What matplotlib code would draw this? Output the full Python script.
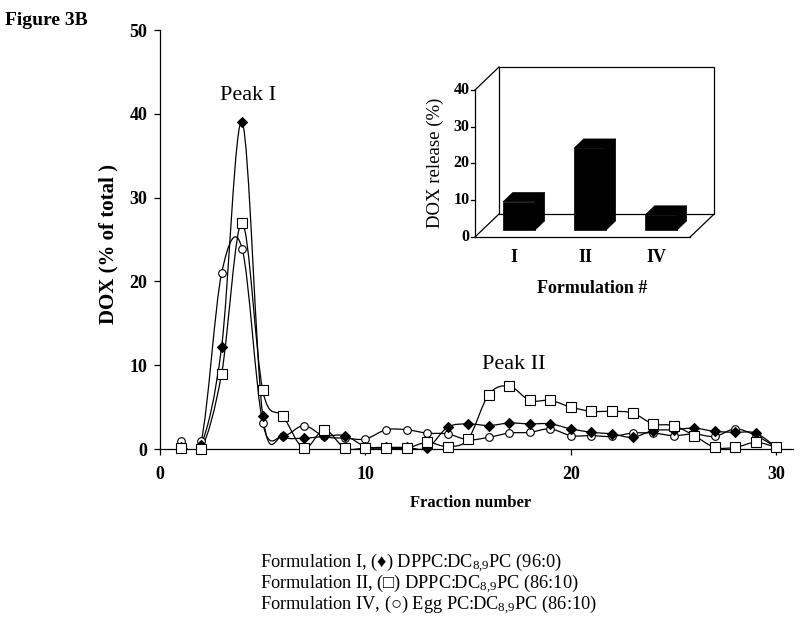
import numpy as np
import matplotlib
matplotlib.use("Agg")
import matplotlib.pyplot as plt
from matplotlib.path import Path
from matplotlib.patches import PathPatch, Polygon

plt.rcParams['font.family'] = ['Liberation Serif', 'DejaVu Serif']
plt.rcParams['mathtext.default'] = 'regular'

# elution profile, fraction 1..30
fractions = list(range(1, 31))
form_I = [0.2, 0.5, 12.2, 39.0, 4.0, 1.5, 1.3, 1.5, 1.6, 0.3, 0.2, 0.2, 0.1, 2.6, 3.0, 2.8, 3.1, 3.0, 3.0, 2.4,
          2.0, 1.8, 1.4, 2.2, 2.3, 2.5, 2.1, 2.0, 1.9, 0.2]
form_II = [0.1, 0.0, 9.0, 27.0, 7.0, 3.9, 0.1, 2.3, 0.1, 0.1, 0.1, 0.1, 0.8, 0.3, 1.2, 6.5, 7.5, 5.8, 5.8, 5.0,
           4.5, 4.5, 4.3, 3.0, 2.8, 1.6, 0.2, 0.2, 0.8, 0.2]
form_IV = [1.0, 0.9, 21.0, 23.9, 3.1, 1.6, 2.8, 1.5, 1.3, 1.2, 2.3, 2.3, 1.9, 1.8, 1.1, 1.4, 1.9, 2.0, 2.4, 1.6,
           1.6, 1.5, 1.9, 1.9, 1.6, 1.8, 1.5, 2.4, 1.6, 0.2]

# inset: DOX release per formulation
inset_labels = ['I', 'II', 'IV']
inset_values = [7.7, 22.3, 4.1]

legend_lines = [
    "Formulation I, (\u2666) DPPC:DC$_{8{,}9}$PC (96:0)",
    "Formulation II, (\u25a1) DPPC:DC$_{8{,}9}$PC (86:10)",
    "Formulation IV, (\u25cb) Egg PC:DC$_{8{,}9}$PC (86:10)",
]


def smooth_path(x, y):
    # Catmull-Rom style bezier through the points (like Excel smoothed lines)
    pts = np.column_stack([x, y]).astype(float)
    n = len(pts)
    verts = [pts[0]]
    codes = [Path.MOVETO]
    for i in range(n - 1):
        p0 = pts[i - 1] if i > 0 else pts[i]
        p1, p2 = pts[i], pts[i + 1]
        p3 = pts[i + 2] if i + 2 < n else pts[i + 1]
        verts += [p1 + (p2 - p0) / 6, p2 - (p3 - p1) / 6, p2]
        codes += [Path.CURVE4] * 3
    return Path(verts, codes)


fig = plt.figure(figsize=(8, 6.26), dpi=100)
ax = fig.add_axes([0.2, 0.2827, 0.791, 0.6693])

series = [
    (form_IV, dict(marker='o', ms=5.5, mfc='white', mec='black', mew=0.8)),
    (form_I, dict(marker='D', ms=5.2, mfc='black', mec='black', mew=0.8)),
    (form_II, dict(marker='s', ms=6.5, mfc='white', mec='black', mew=0.8)),
]
for z, (vals, style) in enumerate(series):
    ax.add_patch(PathPatch(smooth_path(fractions, vals), fill=False, lw=0.9, ec='black', zorder=2 + z))
    ax.plot(fractions, vals, ls='none', zorder=5 + z, clip_on=False, **style)

ax.set_xlim(0, 30.8)
ax.set_ylim(0, 50)
ax.set_xticks([0, 10, 20, 30])
ax.set_yticks([0, 10, 20, 30, 40, 50])
for s in ['top', 'right']:
    ax.spines[s].set_visible(False)
for s in ['left', 'bottom']:
    ax.spines[s].set_linewidth(0.9)
ax.tick_params(direction='out', length=4, width=0.9, labelsize=13)
ax.tick_params(axis='x', pad=8)
ax.tick_params(axis='y', pad=5)
for lab in ax.get_xticklabels() + ax.get_yticklabels():
    lab.set_fontweight('bold')
ax.set_xlabel('Fraction number', fontsize=12, fontweight='bold')
ax.xaxis.set_label_coords(0.49, -0.11)
ax.set_ylabel('DOX (% of total )', fontsize=15, fontweight='bold')
ax.yaxis.set_label_coords(-0.066, 0.489)

ax.text(4.3, 42.2, 'Peak I', fontsize=16, ha='center', va='center')
ax.text(17.2, 10.1, 'Peak II', fontsize=16, ha='center', va='center')

fig.text(0.006, 0.968, 'Figure 3B', fontsize=14, fontweight='bold', va='center')

# ---- inset pseudo-3D bar chart ----
ins = fig.add_axes([0.5334, 0.5275, 0.3728, 0.3757])
ins.set_xlim(-1.3, 2.9)
ins.set_ylim(-16, 48)
ins.axis('off')

x0, x1, top = -0.62, 2.41, 40
DX, DY = 0.338, 6.26
lw = 0.9
line = dict(color='black', lw=lw, clip_on=False)
ins.add_patch(Polygon([(x0 + DX, DY), (x1 + DX, DY), (x1 + DX, top + DY), (x0 + DX, top + DY)],
                      closed=True, fill=False, ec='black', lw=lw, clip_on=False))
ins.plot([x0, x0], [0, top], **line)
ins.plot([x0, x0 + DX], [top, top + DY], **line)
ins.plot([x0, x0 + DX], [0, DY], **line)
ins.plot([x0, x1], [0, 0], **line)
ins.plot([x1, x1 + DX], [0, DY], **line)

for t in range(0, 41, 10):
    ins.plot([x0 - 0.05, x0], [t, t], **line)
    ins.text(x0 - 0.08, t, str(t), ha='right', va='center', fontsize=11.5, fontweight='bold')

w, d0, d1 = 0.45, 0.3, 0.7
for i, (lab, v) in enumerate(zip(inset_labels, inset_values)):
    b = d0 * DY
    ddx, ddy = (d1 - d0) * DX, (d1 - d0) * DY
    front = [(i - w / 2, b), (i + w / 2, b), (i + w / 2, b + v), (i - w / 2, b + v)]
    topf = [(i - w / 2, b + v), (i + w / 2, b + v), (i + w / 2 + ddx, b + v + ddy), (i - w / 2 + ddx, b + v + ddy)]
    side = [(i + w / 2, b), (i + w / 2 + ddx, b + ddy), (i + w / 2 + ddx, b + v + ddy), (i + w / 2, b + v)]
    for poly in (side, topf, front):
        ins.add_patch(Polygon(poly, closed=True, fc='black', ec='black', lw=0.5, clip_on=False, zorder=3))
    ins.text(i - 0.07, -5.5, lab, ha='center', va='center', fontsize=13, fontweight='bold')

ins.text(1.03, -13.9, 'Formulation #', ha='center', va='center', fontsize=13, fontweight='bold')
ins.text(-1.18, 20.1, 'DOX release (%)', ha='center', va='center', rotation=90, fontsize=13.5)

# ---- caption-style legend ----
for k, txt in enumerate(legend_lines):
    fig.text(0.325, 0.102 - k * 0.0337, txt, fontsize=13.2, va='center', ha='left')

fig.savefig('out.png', dpi=100)
